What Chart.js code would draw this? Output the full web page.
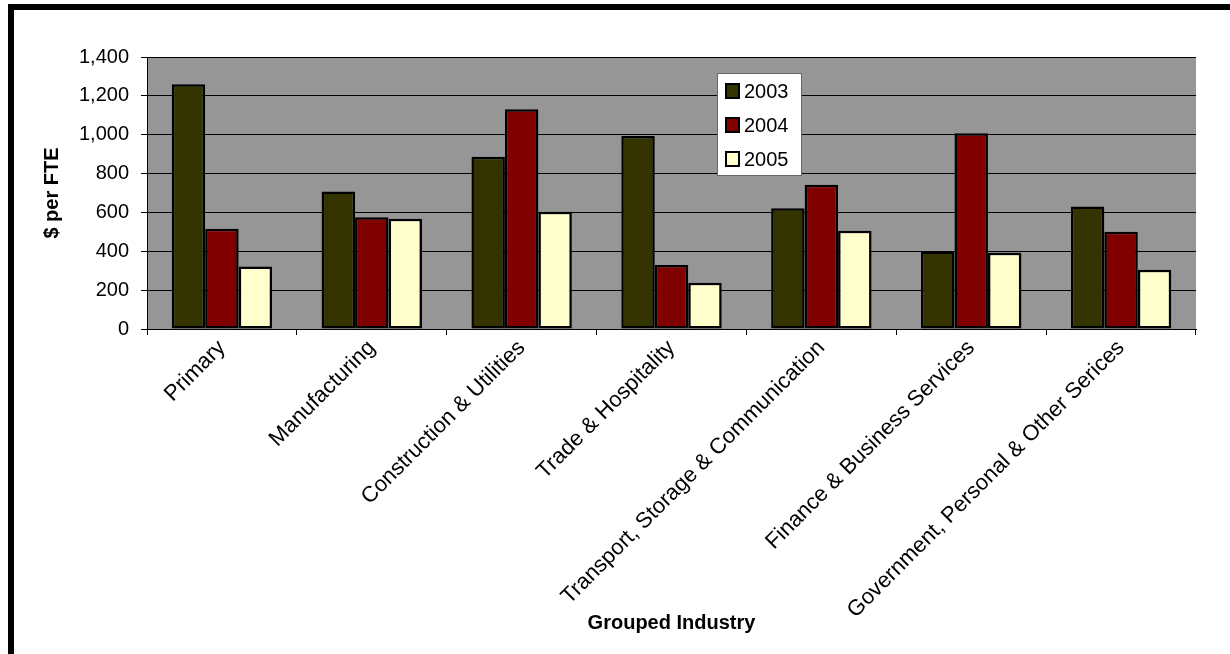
<!DOCTYPE html>
<html>
<head>
<meta charset="utf-8">
<script src="https://cdn.jsdelivr.net/npm/chart.js@4"></script>
<style>
  html, body { margin: 0; padding: 0; background: #fff; overflow: hidden; }
  #frame {
    position: absolute; left: 8px; top: 4px; width: 1300px; height: 644px;
    border-left: 6px solid #000; border-top: 6px solid #000; border-bottom: 4px solid #000;
  }
  #wrap { position: absolute; left: 0; top: 0; width: 1230px; height: 654px; }
</style>
</head>
<body>
<div id="frame"></div>
<div id="wrap"><canvas id="chart" width="1230" height="654"></canvas></div>
<script>
// data
const industries = [
  'Primary',
  'Manufacturing',
  'Construction & Utilities',
  'Trade & Hospitality',
  'Transport, Storage & Communication',
  'Finance & Business Services',
  'Government, Personal & Other Serices',
];
const years = ['2003', '2004', '2005'];
const values2003 = [1260, 708, 887, 993, 621, 399, 630];
const values2004 = [516, 575, 1131, 329, 742, 1007, 501];
const values2005 = [322, 568, 604, 238, 506, 393, 305];
const yTicks = [0, 200, 400, 600, 800, 1000, 1200, 1400];

const colors = ['#333300', '#800000', '#FFFFCC'];
const FONT = 'Arial, "Liberation Sans", sans-serif';

// grey plot background
const plotBg = {
  id: 'plotBg',
  beforeDraw(chart) {
    const { ctx, chartArea: a } = chart;
    ctx.save();
    ctx.fillStyle = '#969696';
    ctx.fillRect(a.left, a.top, a.right - a.left, a.bottom - a.top);
    ctx.restore();
  },
};

// floating legend box inside the plot
const boxLegend = {
  id: 'boxLegend',
  afterDraw(chart) {
    const { ctx } = chart;
    const x = 717, y = 73, w = 85, h = 103;
    ctx.save();
    ctx.fillStyle = '#fff';
    ctx.fillRect(x, y, w, h);
    ctx.strokeStyle = '#666';
    ctx.lineWidth = 1;
    ctx.strokeRect(x + 0.5, y + 0.5, w - 1, h - 1);
    ctx.font = '20px ' + FONT;
    ctx.textBaseline = 'middle';
    chart.data.datasets.forEach((ds, i) => {
      const cy = 91 + i * 34;
      ctx.fillStyle = ds.backgroundColor;
      ctx.fillRect(726, cy - 7, 13, 14);
      ctx.strokeStyle = '#000';
      ctx.lineWidth = 2;
      ctx.strokeRect(726, cy - 7, 13, 14);
      ctx.fillStyle = '#000';
      ctx.fillText(ds.label, 744, cy + 1);
    });
    ctx.restore();
  },
};

const seriesValues = [values2003, values2004, values2005];

new Chart(document.getElementById('chart'), {
  type: 'bar',
  data: {
    labels: industries,
    datasets: years.map((yr, i) => ({
      label: yr,
      data: seriesValues[i],
      backgroundColor: colors[i],
      borderColor: '#000',
      borderWidth: 2.5,
      borderSkipped: false,
      categoryPercentage: 0.67,
      barPercentage: 1.0,
    })),
  },
  options: {
    responsive: false,
    animation: false,
    layout: { padding: { top: 57, right: 34, left: 0, bottom: 0 } },
    plugins: { legend: { display: false }, tooltip: { enabled: false } },
    scales: {
      x: {
        afterFit(scale) { scale.height = 325; },
        grid: { drawOnChartArea: false, drawTicks: true, tickLength: 6, color: '#000', offset: true },
        border: { color: '#000', width: 1 },
        ticks: {
          color: '#000', font: { family: FONT, size: 22 },
          maxRotation: 45, minRotation: 45, padding: 0, autoSkip: false,
        },
        title: {
          display: true, text: 'Grouped Industry', color: '#000',
          font: { family: FONT, size: 20, weight: 'bold' },
          padding: { top: 0, bottom: 19 },
        },
      },
      y: {
        min: 0, max: 1400,
        afterFit(scale) { scale.width = 147; },
        afterBuildTicks(scale) { scale.ticks = yTicks.map((v) => ({ value: v })); },
        grid: { color: '#000', lineWidth: 1, tickLength: 6 },
        border: { color: '#000', width: 1 },
        ticks: {
          color: '#000', font: { family: FONT, size: 20 }, padding: 12,
          callback: (v) => v.toLocaleString('en-US'),
        },
        title: {
          display: true, text: '$ per FTE', color: '#000',
          font: { family: FONT, size: 20, weight: 'bold' },
          padding: { top: 40, bottom: 0 },
        },
      },
    },
  },
  plugins: [plotBg, boxLegend],
});
</script>
</body>
</html>
